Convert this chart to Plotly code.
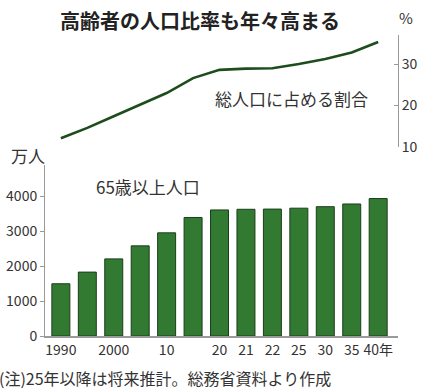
import plotly.graph_objects as go

years = ["1990", "1995", "2000", "2005", "2010", "2015", "2020", "2021", "2022", "2025", "2030", "2035", "2040"]
tick_labels = ["1990", "", "2000", "", "10", "", "20", "21", "22", "25", "30", "35", "40年"]
population = [1493, 1826, 2204, 2576, 2948, 3387, 3603, 3621, 3627, 3653, 3696, 3773, 3928]
ratio = [12.1, 14.6, 17.4, 20.2, 23.0, 26.6, 28.6, 28.9, 29.0, 30.0, 31.2, 32.8, 35.3]

FONT = "Noto Sans CJK JP"
GREY = "#9a9a9a"
TXT = "#333333"

W, H, L, R, T, B = 425, 392, 45, 27, 35, 56
pw, ph = W - L - R, H - T - B

fig = go.Figure()
fig.add_trace(go.Bar(
    x=years, y=population, xaxis="x", yaxis="y",
    marker=dict(color="#327a32", line=dict(color="#1c3d1c", width=1)),
    width=0.68, hoverinfo="skip",
))
fig.add_trace(go.Scatter(
    x=years, y=ratio, xaxis="x", yaxis="y2", mode="lines",
    line=dict(color="#1d4d1d", width=2.6),
    hoverinfo="skip",
))


def px(x, y):
    return (x - L) / pw, (H - B - y) / ph


ann = []


def add(text, x, y, size, xanchor="center", color=TXT):
    xx, yy = px(x, y)
    ann.append(dict(text=text, x=xx, y=yy, xref="paper", yref="paper", showarrow=False,
                    xanchor=xanchor, yanchor="middle",
                    font=dict(size=size, color=color, family=FONT)))


add("<b>高齢者の人口比率も年々高まる</b>", 200, 20, 20, color="#222222")
add("%", 406, 18, 15)
add("総人口に占める割合", 291, 98, 17)
add("65歳以上人口", 148, 186, 17)
add("万人", 28, 155, 17)
add("(注)25年以降は将来推計。総務省資料より作成", -3, 378, 16, xanchor="left")

fig.update_layout(
    template="none",
    width=W, height=H,
    margin=dict(l=L, r=R, t=T, b=B, pad=0),
    paper_bgcolor="white", plot_bgcolor="white",
    showlegend=False,
    font=dict(family=FONT, color=TXT, size=14),
    xaxis=dict(
        type="category", range=[-0.6, 12.75],
        tickmode="array", tickvals=years, ticktext=tick_labels,
        showline=True, linecolor=GREY, linewidth=1.5,
        ticks="", showgrid=False, zeroline=False, automargin=False,
        tickfont=dict(size=14, color=TXT), anchor="y",
    ),
    yaxis=dict(
        domain=[0, 0.568], range=[0, 4886],
        tickvals=[0, 1000, 2000, 3000, 4000],
        showline=True, linecolor=GREY, linewidth=1,
        ticks="outside", ticklen=4, tickcolor=GREY,
        showgrid=False, zeroline=False, automargin=False,
        tickfont=dict(size=14, color=TXT),
    ),
    yaxis2=dict(
        domain=[0.628, 1], range=[10, 37], side="right", anchor="free", position=1,
        tickvals=[10, 20, 30],
        showline=True, linecolor=GREY, linewidth=1,
        ticks="inside", ticklen=4, tickcolor=GREY,
        showgrid=False, zeroline=False, automargin=False,
        tickfont=dict(size=14, color=TXT),
    ),
    annotations=ann,
)

fig.write_html("out.html", config={"displayModeBar": False},
               post_script="document.body.style.margin='0px';")
